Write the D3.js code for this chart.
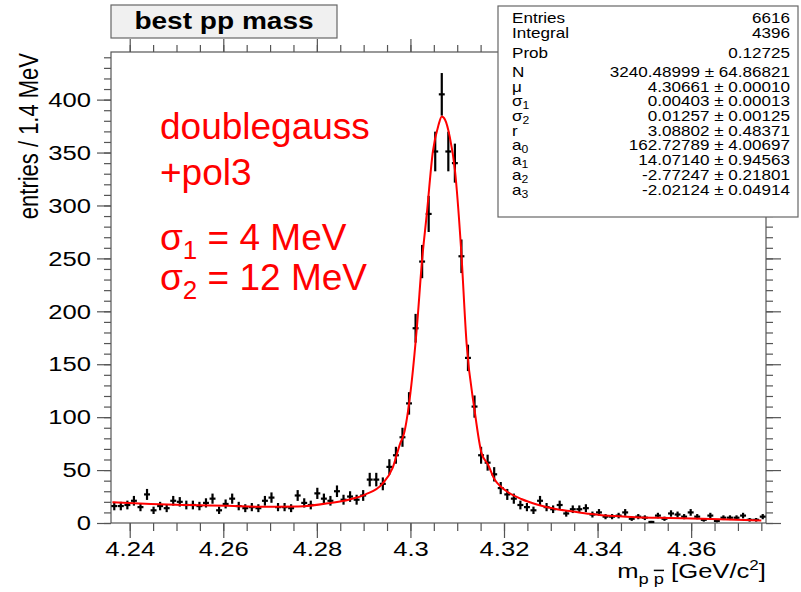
<!DOCTYPE html>
<html>
<head>
<meta charset="utf-8">
<script src="https://cdn.jsdelivr.net/npm/d3@7"></script>
<style>
  body { margin: 0; background: #fff; }
  svg text { font-family: "Liberation Sans", Arial, sans-serif; }
</style>
</head>
<body>
<div id="chart"></div>
<script>
// histogram: 100 bins of 1.4 MeV starting at 4.236 GeV
const binStart = 4.236;
const binWidth = 0.0014;
const counts = [
  16, 16, 17, 21, 15, 27, 12, 16, 14, 21,
  20, 17, 17, 16, 19, 23, 12, 18, 23, 16,
  14, 15, 14, 21, 24, 15, 15, 14, 26, 19,
  17, 28, 23, 21, 30, 22, 25, 22, 26, 41,
  41, 37, 53, 64, 81, 113, 184, 247, 292, 351,
  405, 351, 340, 252, 156, 110, 64, 57, 46, 33,
  27, 23, 17, 15, 12, 21, 15, 13, 17, 9,
  13, 13, 14, 8, 10, 6, 6, 7, 10, 4,
  6, 5, 1, 7, 4, 9, 8, 6, 10, 6,
  3, 7, 2, 5, 5, 5, 7, 3, 3, 6
];

// fit curve
const fitMass = [
  4.2363, 4.2445, 4.2528, 4.2610, 4.2688, 4.2760, 4.2830, 4.2868, 4.2904, 4.2940,
  4.2962, 4.2978, 4.2986, 4.3000, 4.3014, 4.3025, 4.3035, 4.3048, 4.3060, 4.3067,
  4.3074, 4.3084, 4.3095, 4.3108, 4.3120, 4.3137, 4.3152, 4.3166, 4.3180, 4.3194,
  4.3209, 4.3237, 4.3272, 4.3308, 4.3344, 4.3379, 4.3415, 4.3447, 4.3482, 4.3553,
  4.3624, 4.3696, 4.3750
];
const fitValue = [
  19.5, 18, 17, 16.2, 15.3, 15.5, 19, 22, 27, 37,
  52, 75, 84, 123, 186, 249, 292, 351, 376, 384,
  381, 365, 334, 261, 170, 107, 66, 55, 41, 34,
  29, 22.7, 17.3, 13.5, 11, 8.8, 7, 6.3, 5.5, 4.7,
  4, 3, 2.3
];

const xTicks = [4.24, 4.26, 4.28, 4.30, 4.32, 4.34, 4.36];
const xTickLabels = ["4.24", "4.26", "4.28", "4.3", "4.32", "4.34", "4.36"];
const yTicks = [0, 50, 100, 150, 200, 250, 300, 350, 400];

const statNames = ["Entries", "Integral", "Prob", "N", "μ", "σ|1", "σ|2", "r", "a|0", "a|1", "a|2", "a|3"];
const statValues = [
  "6616", "4396", "0.12725", "3240.48999 ± 64.86821", "4.30661 ± 0.00010",
  "0.00403 ± 0.00013", "0.01257 ± 0.00125", "3.08802 ± 0.48371",
  "162.72789 ± 4.00697", "14.07140 ± 0.94563", "-2.77247 ± 0.21801", "-2.02124 ± 0.04914"
];

const W = 801, H = 592;
const frame = { left: 111, right: 766, top: 52, bottom: 523 };
const stretch = 1.22; // the ROOT texts are wider than they are tall

const svg = d3.select("#chart").append("svg")
  .attr("width", W).attr("height", H);

svg.append("rect").attr("width", W).attr("height", H).attr("fill", "#fff");

const x = d3.scaleLinear()
  .domain([binStart, binStart + counts.length * binWidth])
  .range([frame.left, frame.right]);

const y = d3.scaleLinear()
  .domain([0, 445])
  .range([frame.bottom, frame.top]);

const minorX = d3.range(4.24 - 0.005, 4.376, 0.005).filter((v) => v > 4.236);
const minorY = d3.range(0, 441, 10);

function styleAxis(g) {
  g.select(".domain").remove();
  g.selectAll("line").attr("stroke", "#555").attr("stroke-width", 1.2);
}

function widen(texts) {
  texts
    .attr("x", function () { return (+this.getAttribute("x") || 0) / stretch; })
    .attr("transform", `scale(${stretch},1)`);
}

// frame
svg.append("rect")
  .attr("x", frame.left).attr("y", frame.top)
  .attr("width", frame.right - frame.left)
  .attr("height", frame.bottom - frame.top)
  .attr("fill", "none")
  .attr("stroke", "#555")
  .attr("stroke-width", 1.2);

// bottom axis
svg.append("g")
  .attr("transform", `translate(0,${frame.bottom})`)
  .call(d3.axisBottom(x).tickValues(minorX).tickSize(8).tickFormat(""))
  .call(styleAxis);
svg.append("g")
  .attr("transform", `translate(0,${frame.bottom})`)
  .call(d3.axisBottom(x).tickValues(xTicks).tickSize(15).tickPadding(3)
    .tickFormat((d, i) => xTickLabels[i]))
  .call(styleAxis)
  .selectAll("text")
  .attr("fill", "#000")
  .style("font-size", "21px")
  .call(widen);

// top axis
svg.append("g")
  .attr("transform", `translate(0,${frame.top})`)
  .call(d3.axisTop(x).tickValues(minorX).tickSize(7).tickFormat(""))
  .call(styleAxis);
svg.append("g")
  .attr("transform", `translate(0,${frame.top})`)
  .call(d3.axisTop(x).tickValues(xTicks).tickSize(13).tickFormat(""))
  .call(styleAxis);

// left axis
svg.append("g")
  .attr("transform", `translate(${frame.left},0)`)
  .call(d3.axisLeft(y).tickValues(minorY).tickSize(7).tickFormat(""))
  .call(styleAxis);
svg.append("g")
  .attr("transform", `translate(${frame.left},0)`)
  .call(d3.axisLeft(y).tickValues(yTicks).tickSize(14).tickPadding(6))
  .call(styleAxis)
  .selectAll("text")
  .attr("fill", "#000")
  .style("font-size", "21px")
  .call(widen);

// right axis
svg.append("g")
  .attr("transform", `translate(${frame.right},0)`)
  .call(d3.axisRight(y).tickValues(minorY).tickSize(7).tickFormat(""))
  .call(styleAxis);
svg.append("g")
  .attr("transform", `translate(${frame.right},0)`)
  .call(d3.axisRight(y).tickValues(yTicks).tickSize(15).tickFormat(""))
  .call(styleAxis);

// data points with error bars
const bins = counts.map((c, i) => ({
  m: binStart + (i + 0.5) * binWidth,
  lo: binStart + i * binWidth,
  hi: binStart + (i + 1) * binWidth,
  c: c
}));

const pts = svg.append("g").attr("stroke", "#000").attr("stroke-width", 2.2);
pts.selectAll(".ex")
  .data(bins)
  .enter()
  .append("line")
  .attr("x1", (d) => x(d.lo) + 0.3)
  .attr("x2", (d) => x(d.hi) - 0.3)
  .attr("y1", (d) => y(d.c))
  .attr("y2", (d) => y(d.c));
pts.selectAll(".ey")
  .data(bins)
  .enter()
  .append("line")
  .attr("x1", (d) => x(d.m))
  .attr("x2", (d) => x(d.m))
  .attr("y1", (d) => y(Math.max(0, d.c - Math.sqrt(d.c))))
  .attr("y2", (d) => y(d.c + Math.sqrt(d.c)));

// fit curve
const fitLine = d3.line()
  .x((d, i) => x(fitMass[i]))
  .y((d) => y(d))
  .curve(d3.curveMonotoneX);

svg.append("path")
  .datum(fitValue)
  .attr("d", fitLine)
  .attr("fill", "none")
  .attr("stroke", "#ff0000")
  .attr("stroke-width", 2);

// title box
svg.append("rect")
  .attr("x", 111).attr("y", 5).attr("width", 226).attr("height", 33)
  .attr("fill", "#f0f0f0").attr("stroke", "#666").attr("stroke-width", 1.2);
svg.append("text")
  .attr("transform", `translate(224,29) scale(${stretch},1)`)
  .attr("text-anchor", "middle")
  .style("font-size", "23px").style("font-weight", "bold")
  .text("best pp mass");

// stats box
svg.append("rect")
  .attr("x", 498).attr("y", 6).attr("width", 300).attr("height", 211)
  .attr("fill", "#fff").attr("stroke", "#666").attr("stroke-width", 1.2);

const rowY = [23, 38, 58, 77, 92, 106, 121, 136, 150, 165, 180, 195];
const stats = svg.append("g").style("font-size", "14px");
statNames.forEach((name, i) => {
  const parts = name.split("|");
  const t = stats.append("text")
    .attr("transform", `translate(512,${rowY[i]}) scale(${stretch},1)`);
  t.append("tspan").text(parts[0]);
  if (parts[1]) {
    t.append("tspan").attr("dy", 3).style("font-size", "10px").text(parts[1]);
  }
  stats.append("text")
    .attr("transform", `translate(790,${rowY[i]}) scale(${stretch},1)`)
    .attr("text-anchor", "end")
    .text(statValues[i]);
});

// red annotation
const red = svg.append("g").attr("fill", "#ff0000").style("font-size", "37px");
red.append("text").attr("x", 160).attr("y", 139).text("doublegauss");
red.append("text").attr("x", 160).attr("y", 185).text("+pol3");
const s1 = red.append("text").attr("x", 160).attr("y", 250);
s1.append("tspan").text("σ");
s1.append("tspan").attr("dy", 9).style("font-size", "26px").text("1");
s1.append("tspan").attr("dy", -9).text(" = 4 MeV");
const s2 = red.append("text").attr("x", 160).attr("y", 290);
s2.append("tspan").text("σ");
s2.append("tspan").attr("dy", 9).style("font-size", "26px").text("2");
s2.append("tspan").attr("dy", -9).text(" = 12 MeV");

// axis titles
svg.append("text")
  .attr("transform", `translate(38,53) scale(${stretch},1) rotate(-90)`)
  .attr("text-anchor", "end")
  .style("font-size", "22px")
  .text("entries / 1.4 MeV");

const xt = svg.append("text")
  .attr("transform", `translate(766,578) scale(${stretch},1)`)
  .attr("text-anchor", "end")
  .style("font-size", "21px");
xt.append("tspan").text("m");
xt.append("tspan").attr("dy", 6).style("font-size", "15px").text("p ");
xt.append("tspan").style("font-size", "15px").style("text-decoration", "overline").text("p");
xt.append("tspan").attr("dy", -6).text(" [GeV/c");
xt.append("tspan").attr("dy", -8).style("font-size", "14px").text("2");
xt.append("tspan").attr("dy", 8).text("]");
</script>
</body>
</html>
